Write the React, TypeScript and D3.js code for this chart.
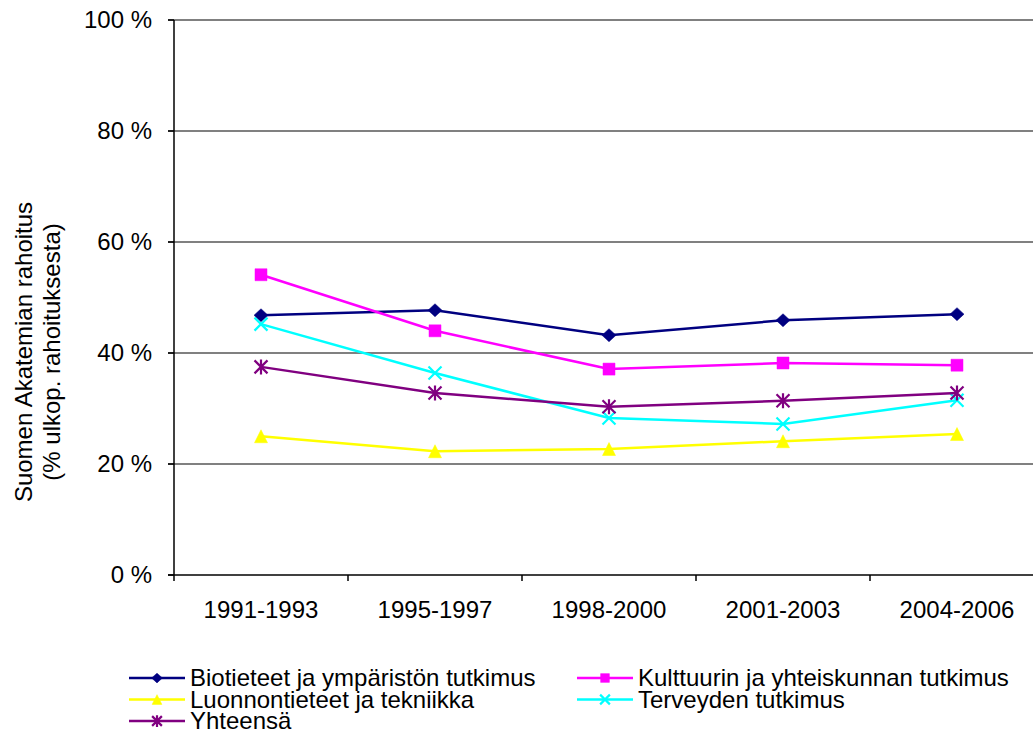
import * as React from "react";
import * as d3 from "d3";

const periods: string[] = ["1991-1993", "1995-1997", "1998-2000", "2001-2003", "2004-2006"];
const yTicks: number[] = [0, 20, 40, 60, 80, 100];

const bio: number[] = [46.8, 47.7, 43.2, 45.9, 47.0];
const kulttuuri: number[] = [54.1, 44.0, 37.1, 38.2, 37.8];
const luonnon: number[] = [25.0, 22.3, 22.7, 24.1, 25.4];
const terveys: number[] = [45.2, 36.4, 28.3, 27.2, 31.5];
const yhteensa: number[] = [37.5, 32.8, 30.3, 31.4, 32.8];

type Marker = "diamond" | "square" | "triangle" | "x" | "star";

interface Series {
  name: string;
  values: number[];
  color: string;
  marker: Marker;
}

const series: Series[] = [
  { name: "Biotieteet ja ympäristön tutkimus", values: bio, color: "#000080", marker: "diamond" },
  { name: "Kulttuurin ja yhteiskunnan tutkimus", values: kulttuuri, color: "#ff00ff", marker: "square" },
  { name: "Luonnontieteet ja tekniikka", values: luonnon, color: "#ffff00", marker: "triangle" },
  { name: "Terveyden tutkimus", values: terveys, color: "#00ffff", marker: "x" },
  { name: "Yhteensä", values: yhteensa, color: "#800080", marker: "star" }
];

const W = 1033;
const H = 733;
const margin = { left: 174, right: -11, top: 20, bottom: 158 };
const FONT = "'Liberation Sans', Arial, sans-serif";

function markerPath(m: Marker, s: number): string {
  const r = 6.5 * s;
  switch (m) {
    case "diamond":
      return `M0,${-r}L${r + 0.5},0L0,${r}L${-r - 0.5},0Z`;
    case "square":
      return `M${-r + 0.5},${-r + 0.5}H${r - 0.5}V${r - 0.5}H${-r + 0.5}Z`;
    case "triangle":
      return `M0,${-r}L${r},${r}L${-r},${r}Z`;
    case "x":
      return `M${-r},${-r}L${r},${r}M${r},${-r}L${-r},${r}`;
    default:
      return `M${-r},${-r}L${r},${r}M${r},${-r}L${-r},${r}M0,${-r - 1}V${r + 1}`;
  }
}

function MarkerShape(props: { m: Marker; color: string; x: number; y: number; s?: number }): JSX.Element {
  const s = props.s ?? 1;
  const stroked = props.m === "x" || props.m === "star";
  return (
    <path
      d={markerPath(props.m, s)}
      transform={`translate(${props.x},${props.y})`}
      fill={stroked ? "none" : props.color}
      stroke={props.color}
      strokeWidth={stroked ? 2.2 : 0.5}
    />
  );
}

export default function App(): JSX.Element {
  const x = d3.scaleBand<string>().domain(periods).range([margin.left, W - margin.right]);
  const y = d3.scaleLinear().domain([0, 100]).range([H - margin.bottom, margin.top]);
  const cx = (p: string): number => (x(p) ?? 0) + x.bandwidth() / 2;
  const line = d3
    .line<number>()
    .x((_, i) => cx(periods[i]))
    .y((v) => y(v));

  const x0 = margin.left;
  const x1 = W - margin.right;
  const bottom = y(0);

  const legendRows = [
    [series[0], series[1]],
    [series[2], series[3]],
    [series[4]]
  ];
  const legendCols = [129, 577];

  return (
    <svg width={W} height={H} style={{ position: "absolute", left: 0, top: 0, background: "#fff" }} fontFamily={FONT}>
      {/* gridlines */}
      {yTicks.filter((t) => t > 0).map((t) => (
        <line key={t} x1={x0 - 6} x2={x1} y1={y(t)} y2={y(t)} stroke="#808080" strokeWidth={2} />
      ))}
      {/* axes */}
      <line x1={x0} x2={x0} y1={y(100)} y2={bottom} stroke="#000" strokeWidth={1.5} />
      <line x1={x0 - 6} x2={x1} y1={bottom} y2={bottom} stroke="#000" strokeWidth={1.5} />
      {yTicks.map((t) => (
        <g key={t}>
          <line x1={x0 - 6} x2={x0} y1={y(t)} y2={y(t)} stroke="#000" strokeWidth={1.5} />
          <text x={152} y={y(t)} dy="0.35em" textAnchor="end" fontSize={24}>
            {t} %
          </text>
        </g>
      ))}
      {periods.map((p) => (
        <g key={p}>
          <line x1={x(p)} x2={x(p)} y1={bottom} y2={bottom + 6} stroke="#000" strokeWidth={1.5} />
          <text x={cx(p)} y={618} textAnchor="middle" fontSize={24}>
            {p}
          </text>
        </g>
      ))}
      {/* axis title */}
      <g transform="translate(32,352) rotate(-90)">
        <text textAnchor="middle" fontSize={24}>Suomen Akatemian rahoitus</text>
        <text textAnchor="middle" fontSize={24} y={28}>(% ulkop. rahoituksesta)</text>
      </g>
      {/* series */}
      {series.map((s) => (
        <g key={s.name}>
          <path d={line(s.values) ?? ""} fill="none" stroke={s.color} strokeWidth={2.5} />
          {s.values.map((v, i) => (
            <MarkerShape key={i} m={s.marker} color={s.color} x={cx(periods[i])} y={y(v)} />
          ))}
        </g>
      ))}
      {/* legend */}
      {legendRows.map((row, ri) =>
        row.map((s, ci) => {
          const lx = legendCols[ci];
          const ly = 678 + ri * 21.5;
          return (
            <g key={s.name}>
              <line x1={lx} x2={lx + 56} y1={ly} y2={ly} stroke={s.color} strokeWidth={2.5} />
              <MarkerShape m={s.marker} color={s.color} x={lx + 28} y={ly} s={0.75} />
              <text x={lx + 61} y={ly} dy="0.35em" fontSize={24}>
                {s.name}
              </text>
            </g>
          );
        })
      )}
    </svg>
  );
}
